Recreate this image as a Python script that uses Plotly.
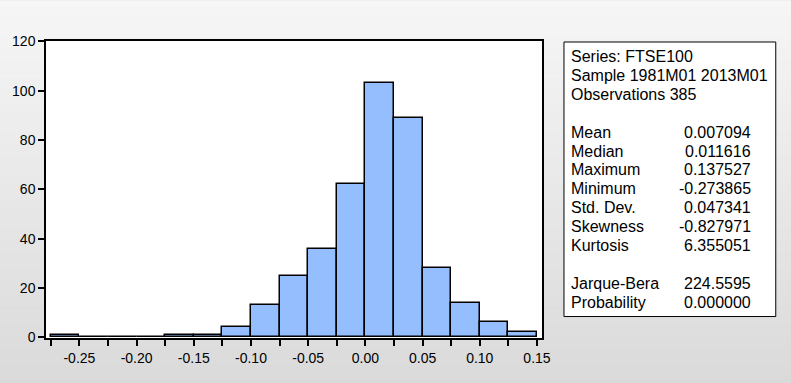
import plotly.graph_objects as go

# ---- data ----
bin_starts = [-0.275, -0.25, -0.225, -0.2, -0.175, -0.15, -0.125, -0.1, -0.075,
              -0.05, -0.025, 0.0, 0.025, 0.05, 0.075, 0.1, 0.125]
counts = [1, 0, 0, 0, 1, 1, 4, 13, 25, 36, 62, 103, 89, 28, 14, 6, 2]
bin_width = 0.025

x_tick_vals = [-0.275, -0.25, -0.225, -0.2, -0.175, -0.15, -0.125, -0.1, -0.075,
               -0.05, -0.025, 0.0, 0.025, 0.05, 0.075, 0.1, 0.125, 0.15]
x_tick_text = ["", "-0.25", "", "-0.20", "", "-0.15", "", "-0.10", "",
               "-0.05", "", "0.00", "", "0.05", "", "0.10", "", "0.15"]
y_tick_vals = [0, 20, 40, 60, 80, 100, 120]

header_lines = ["Series: FTSE100", "Sample 1981M01 2013M01", "Observations 385"]
stat_labels = ["Mean", "Median", "Maximum", "Minimum", "Std. Dev.", "Skewness", "Kurtosis"]
stat_values = ["0.007094", "0.011616", "0.137527", "-0.273865", "0.047341", "-0.827971", "6.355051"]
test_labels = ["Jarque-Bera", "Probability"]
test_values = ["224.5595", "0.000000"]

# ---- layout geometry (pixels) ----
W, H = 791, 383
L, R, T, B = 46, 542.5, 40.5, 338

def px(x):
    return (x - L) / (R - L)

def py(y):
    return (B - y) / (B - T)

FONT = "Liberation Sans, Arial, sans-serif"

centers = [s + bin_width / 2 for s in bin_starts]

fig = go.Figure(go.Bar(
    x=centers, y=counts, width=bin_width,
    marker=dict(color="rgb(149,190,255)", line=dict(color="black", width=1.5)),
    hoverinfo="skip",
))

shapes = []
# vertical gradient background
N = 64
for i in range(N):
    y0 = H * i / N
    y1 = H * (i + 1) / N + 0.5
    c = round(246 - (246 - 218) * (i + 0.5) / N)
    shapes.append(dict(type="rect", xref="paper", yref="paper",
                       x0=px(-5), x1=px(W + 5), y0=py(y1), y1=py(y0),
                       fillcolor=f"rgb({c},{c},{c})", line=dict(width=0), layer="below"))
# plot area
shapes.append(dict(type="rect", xref="paper", yref="paper", x0=0, x1=1, y0=0, y1=1,
                   fillcolor="white", line=dict(width=0), layer="below"))
# stats box
shapes.append(dict(type="rect", xref="paper", yref="paper",
                   x0=px(564.5), x1=px(776.5), y0=py(316.5), y1=py(41.5),
                   fillcolor="white", line=dict(color="black", width=1), layer="below"))

annotations = []
line0, step = 56.0, 18.95

def add_text(text, x, idx, anchor="left"):
    annotations.append(dict(text=text, xref="paper", yref="paper",
                            x=px(x), y=py(line0 + step * idx), xanchor=anchor, yanchor="middle",
                            borderpad=0, borderwidth=0,
                            showarrow=False, font=dict(family=FONT, size=16, color="black")))

for i, t in enumerate(header_lines):
    add_text(t, 572, i)
for i, (lab, val) in enumerate(zip(stat_labels, stat_values)):
    add_text(lab, 572, 4 + i)
    add_text(val, 751.5, 4 + i, "right")
for i, (lab, val) in enumerate(zip(test_labels, test_values)):
    add_text(lab, 572, 12 + i)
    add_text(val, 751.5, 12 + i, "right")

fig.update_layout(
    width=W, height=H,
    margin=dict(l=L, r=W - R, t=T, b=H - B, pad=0),
    paper_bgcolor="rgb(232,232,232)",
    plot_bgcolor="rgba(0,0,0,0)",
    showlegend=False,
    bargap=0,
    shapes=shapes,
    annotations=annotations,
    font=dict(family=FONT, size=14, color="black"),
)
fig.update_xaxes(
    range=[-0.2792, 0.1544], tickmode="array", tickvals=x_tick_vals, ticktext=x_tick_text,
    ticks="outside", ticklen=6, tickwidth=1.5, tickcolor="black",
    showline=True, linecolor="black", linewidth=1.5, mirror=True,
    showgrid=False, zeroline=False, tickfont=dict(size=14, family=FONT, color="black"),
)
fig.update_yaxes(
    range=[-0.3, 120.2], tickmode="array", tickvals=y_tick_vals,
    ticks="outside", ticklen=6, tickwidth=1.5, tickcolor="black",
    showline=True, linecolor="black", linewidth=1.5, mirror=True,
    showgrid=False, zeroline=False, tickfont=dict(size=14, family=FONT, color="black"),
)

fig.write_html(
    "out.html",
    config={"displayModeBar": False},
    post_script="document.body.style.margin='0';document.body.style.overflow='hidden';",
)
